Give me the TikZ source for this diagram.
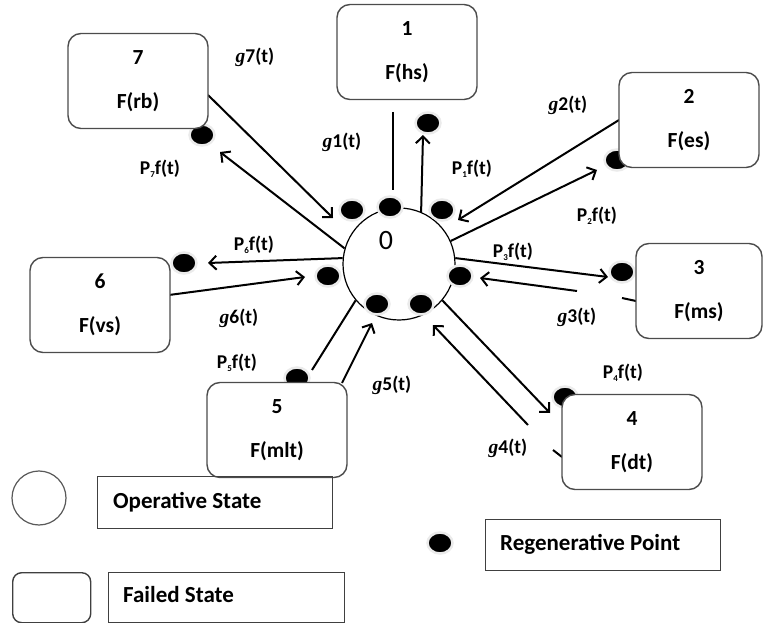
\documentclass[tikz,border=0pt]{standalone}
\usepackage{fontspec}
\setmainfont{Carlito}
\newfontfamily\gfont{Liberation Serif}
\usetikzlibrary{arrows.meta,shapes.geometric}
\newcommand\glab[1]{{\gfont\itshape g}#1(t)}
\newcommand\plab[1]{P\raisebox{-2.5pt}{\fontsize{9}{9}\selectfont #1}f(t)}
\begin{document}
\begin{tikzpicture}[x=1pt,y=-1pt,
  state/.style={draw=black!70, line width=1.4pt, rounded corners=13pt, minimum width=140pt, minimum height=95pt, fill=white, align=center, inner sep=0pt, font=\bfseries\fontsize{21.5}{24}\selectfont},
  rp/.style={ellipse, fill=black, draw=black!8, line width=2.5pt, minimum width=25pt, minimum height=21pt, inner sep=0pt},
  arr/.style={line width=2pt, -{Straight Barb[length=7pt,width=14pt]}},
  ln/.style={line width=2pt},
  lab/.style={font=\bfseries\fontsize{19.5}{22}\selectfont, inner sep=0pt},
  legbox/.style={draw=black!75, line width=1.4pt, inner sep=0pt, anchor=north west},
  legtext/.style={font=\bfseries\fontsize{23}{26}\selectfont, anchor=west, inner sep=0pt}]
\useasboundingbox (0,0) rectangle (764,623);

% operative state 0
\node[circle, draw, line width=1.2pt, fill=white, minimum size=112pt, inner sep=0pt] (c0) at (399,264) {};
\node[font=\fontsize{28}{30}\selectfont, inner sep=0pt] (z0) at (386,241) {0};

% coordinates for free ends
\coordinate (s7) at (208,95);   \coordinate (t7) at (333,218);
\coordinate (tp7) at (220,152);
\coordinate (s1) at (393,112);  \coordinate (t1) at (393,190);
\coordinate (tp1) at (423,135);
\coordinate (s2) at (619,120);  \coordinate (t2) at (458,220);
\coordinate (tp2) at (597,170);
\coordinate (tp3) at (608,277);
\coordinate (s3) at (577,291);  \coordinate (t3) at (480,278);
\coordinate (r3a) at (622,298); \coordinate (r3b) at (636,301);
\coordinate (tp4) at (550,413);
\coordinate (s4) at (528,425);  \coordinate (t4) at (433,325);
\coordinate (r4a) at (553,450); \coordinate (r4b) at (562,457);
\coordinate (sp5) at (312,370);
\coordinate (s5) at (342,383);  \coordinate (t5) at (372,323);
\coordinate (tp6) at (208,263);
\coordinate (s6) at (169,295);  \coordinate (t6) at (305,277);

% connectors
\draw[arr] (s7) -- (t7);
\draw[arr] (c0.164) -- (tp7);
\draw[ln] (s1) -- (t1);
\draw[arr] (c0.67) -- (tp1);
\draw[arr] (s2) -- (t2);
\draw[arr] (c0.24) -- (tp2);
\draw[arr] (c0.6) -- (tp3);
\draw[arr] (s3) -- (t3);
\draw[ln] (r3a) -- (r3b);
\draw[arr] (c0.-40) -- (tp4);
\draw[arr] (s4) -- (t4);
\draw[ln] (r4a) -- (r4b);
\draw[ln] (sp5) -- (c0.220);
\draw[arr] (s5) -- (t5);
\draw[arr] (c0.174) -- (tp6);
\draw[arr] (s6) -- (t6);

% regenerative points
\node[rp] (d7) at (202,135) {};
\node[rp] (d1) at (428,123) {};
\node[rp] (d2) at (617,160) {};
\node[rp] (d3) at (622,272) {};
\node[rp] (d4) at (565,397) {};
\node[rp] (d5) at (297,378) {};
\node[rp] (d6) at (184,263) {};
\node[rp] (e7) at (352,210) {};
\node[rp] (e1) at (390,207) {};
\node[rp] (e2) at (442,210) {};
\node[rp] (e6) at (328,276) {};
\node[rp] (e3) at (460,276) {};
\node[rp] (e5) at (377,304) {};
\node[rp] (e4) at (421,304) {};

% failed states
\node[state] (b7) at (138,81) {7\\[20pt]F(rb)};
\node[state] (b1) at (407,52) {1\\[20pt]F(hs)};
\node[state] (b2) at (689,120) {2\\[20pt]F(es)};
\node[state, minimum width=126pt] (b3) at (699,291) {3\\[20pt]F(ms)};
\node[state] (b4) at (632,442) {4\\[20pt]F(dt)};
\node[state] (b5) at (277,430) {5\\[20pt]F(mlt)};
\node[state] (b6) at (100,305) {6\\[20pt]F(vs)};

% labels
\node[lab] (l7g) at (255,57) {\glab{7}};
\node[lab] (l7p) at (160,169) {\plab{7}};
\node[lab] (l1g) at (342,142) {\glab{1}};
\node[lab] (l1p) at (472,169) {\plab{1}};
\node[lab] (l2g) at (568,105) {\glab{2}};
\node[lab] (l2p) at (597,216) {\plab{2}};
\node[lab] (l3p) at (513,252) {\plab{3}};
\node[lab] (l3g) at (577,317) {\glab{3}};
\node[lab] (l4p) at (623,373) {\plab{4}};
\node[lab] (l4g) at (508,448) {\glab{4}};
\node[lab] (l5g) at (392,385) {\glab{5}};
\node[lab] (l5p) at (237,363) {\plab{5}};
\node[lab] (l6g) at (239,318) {\glab{6}};
\node[lab] (l6p) at (254,245) {\plab{6}};

% legend
\node[circle, draw=black!65, line width=1.2pt, minimum size=54pt, inner sep=0pt] (lc) at (39,498) {};
\node[legbox, minimum width=235pt, minimum height=52pt] (lo) at (97,476) {};
\node[legtext] (lot) at (113,502) {Operative State};
\node[rp] (lr) at (440,543) {};
\node[legbox, minimum width=235pt, minimum height=51pt] (lrb) at (485,519) {};
\node[legtext] (lrt) at (500,544) {Regenerative Point};
\node[legbox, rounded corners=9pt, minimum width=78pt, minimum height=50pt] (lf) at (12,572) {};
\node[legbox, minimum width=236pt, minimum height=50pt] (lfb) at (108,572) {};
\node[legtext] (lft) at (123,595) {Failed State};
\end{tikzpicture}
\end{document}
